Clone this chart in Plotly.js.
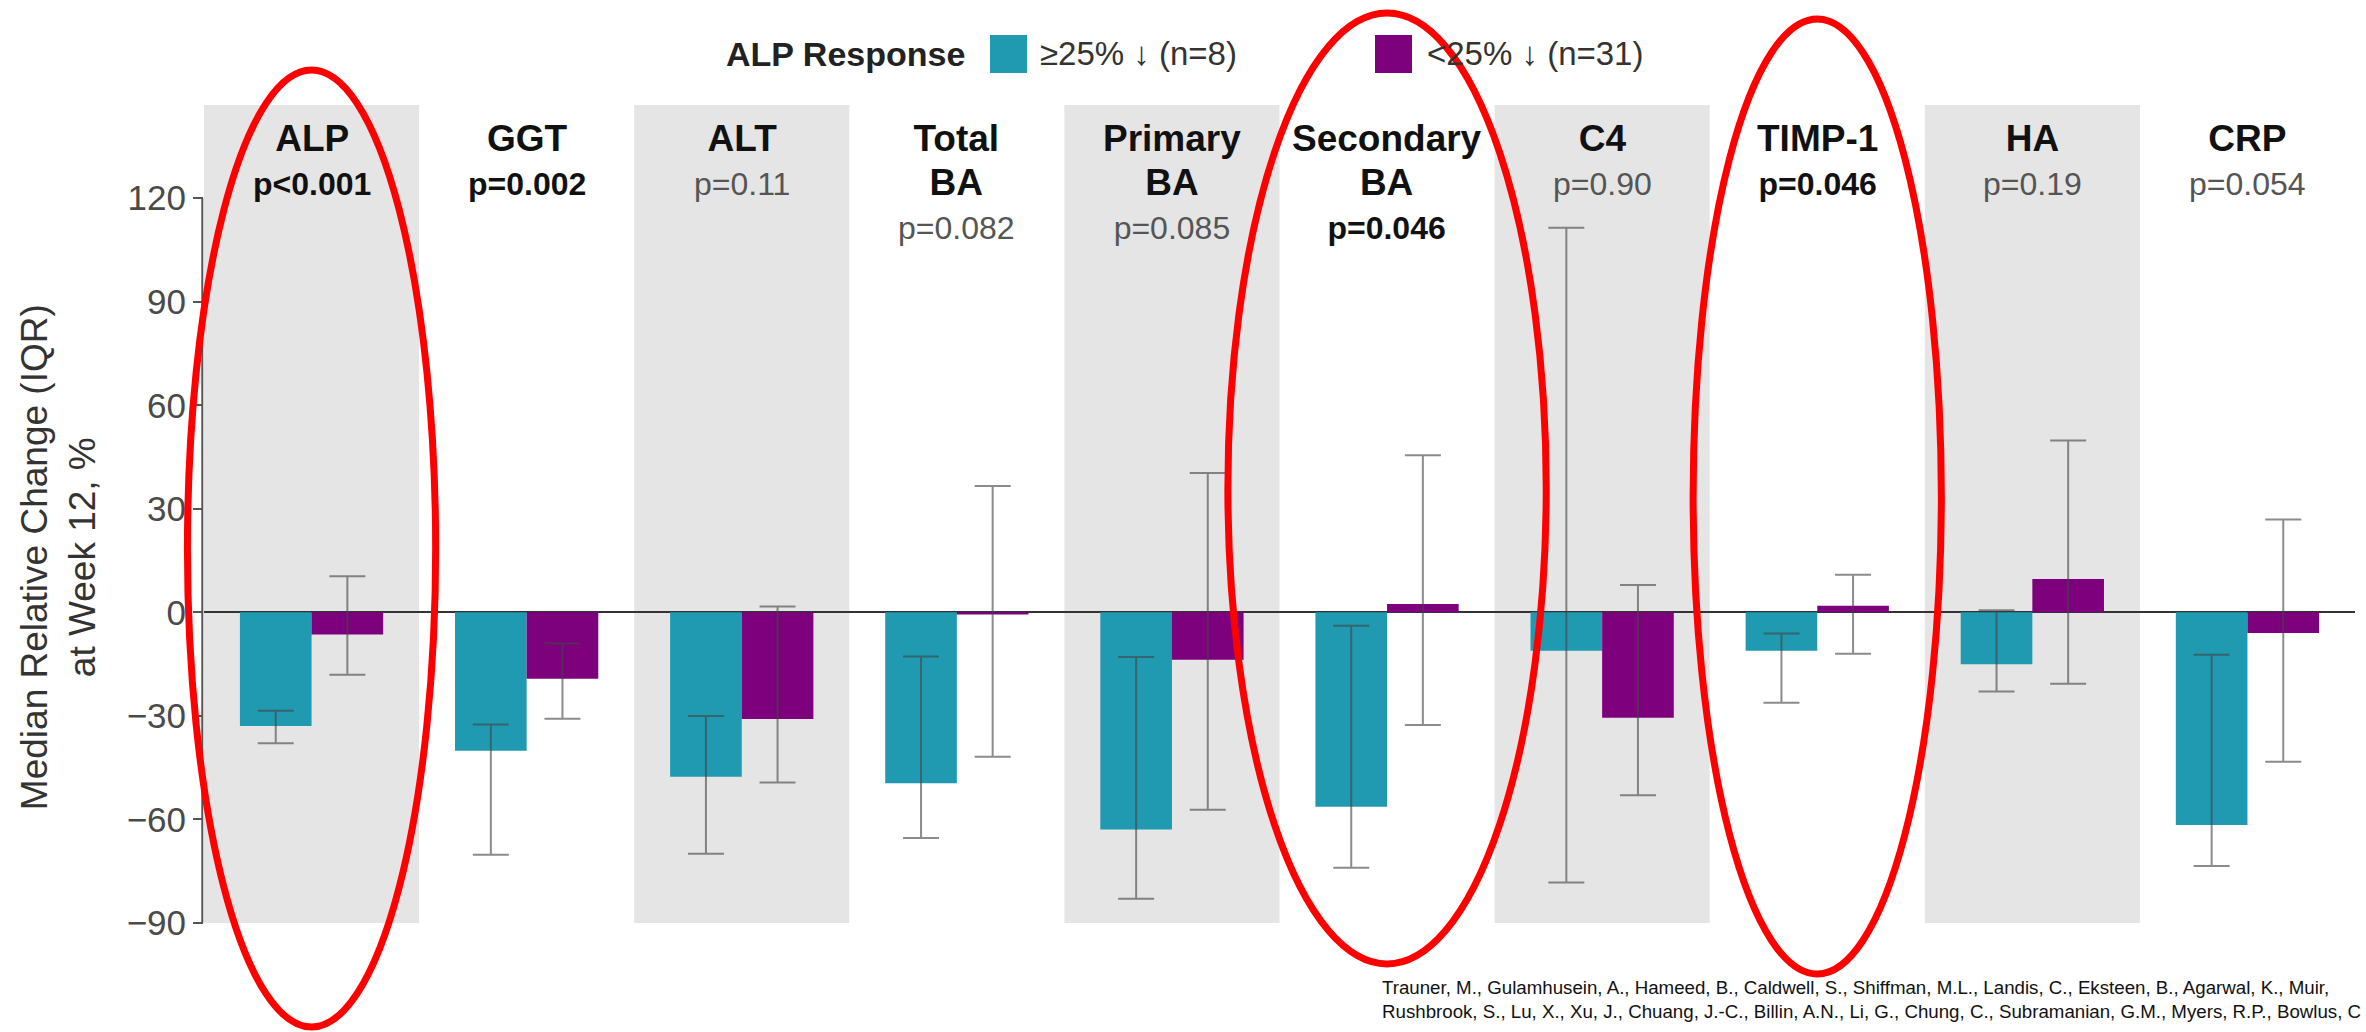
<!DOCTYPE html>
<html>
<head>
<meta charset="utf-8">
<script src="https://cdn.plot.ly/plotly-3.0.1.min.js"></script>
<style>
  html, body { margin: 0; padding: 0; background: #ffffff; }
  #chart { width: 2366px; height: 1032px; }
</style>
</head>
<body>
<div id="chart"></div>
<script>
// ---------------- DATA ----------------
const categories = ['ALP', 'GGT', 'ALT', 'Total BA', 'Primary BA', 'Secondary BA', 'C4', 'TIMP-1', 'HA', 'CRP'];
const categoryLabels = ['ALP', 'GGT', 'ALT', 'Total<br>BA', 'Primary<br>BA', 'Secondary<br>BA', 'C4', 'TIMP-1', 'HA', 'CRP'];
const pValues = ['p<0.001', 'p=0.002', 'p=0.11', 'p=0.082', 'p=0.085', 'p=0.046', 'p=0.90', 'p=0.046', 'p=0.19', 'p=0.054'];
const pSignificant = [true, true, false, false, false, true, false, true, false, false];

const seriesNames = ['\u226525% \u2193 (n=8)', '<25% \u2193 (n=31)'];
const legendTitle = 'ALP Response';

// >=25% responders: median, upper quartile, lower quartile
const respMedian = [-32.9, -40.1, -47.6, -49.5, -62.9, -56.3, -11.1, -11.1, -15.0, -61.6];
const respQ3     = [-28.5, -32.5, -30.0, -12.8, -12.9, -3.9, 111.4, -6.1, 0.6, -12.3];
const respQ1     = [-37.9, -70.2, -69.9, -65.4, -83.0, -74.0, -78.3, -26.2, -22.9, -73.5];

// <25% responders
const nonMedian = [-6.4, -19.2, -30.9, -0.6, -13.7, 2.4, -30.5, 1.9, 9.7, -6.0];
const nonQ3     = [10.5, -9.0, 1.7, 36.6, 40.4, 45.5, 7.9, 10.9, 49.8, 26.9];
const nonQ1     = [-18.1, -30.8, -49.3, -41.8, -57.2, -32.6, -53.0, -12.0, -20.7, -43.3];

const yTicks = [-90, -60, -30, 0, 30, 60, 90, 120];
const yTitleLines = ['Median Relative Change (IQR)', 'at Week 12, %'];
const highlighted = ['ALP', 'Secondary BA', 'TIMP-1'];
const citationLines = [
  'Trauner, M., Gulamhusein, A., Hameed, B., Caldwell, S., Shiffman, M.L., Landis, C., Eksteen, B., Agarwal, K., Muir,',
  'Rushbrook, S., Lu, X., Xu, J., Chuang, J.-C., Billin, A.N., Li, G., Chung, C., Subramanian, G.M., Myers, R.P., Bowlus, C'
];

// ---------------- STYLE / LAYOUT ----------------
const W = 2366, H = 1032;
const M = { l: 204, r: 11, t: 105, b: 109 };
const plotL = M.l, plotR = W - M.r, plotT = M.t, plotB = H - M.b;
const px = v => (v - plotL) / (plotR - plotL);   // pixel -> paper x
const py = v => (plotB - v) / (plotB - plotT);   // pixel -> paper y

const TEAL = '#1f9ab0';
const PURPLE = '#7d007d';
const BAND = '#e5e5e5';
const FONT = 'Liberation Sans, Arial, Helvetica, sans-serif';

const errStyle = { color: 'rgba(70,70,70,0.62)', thickness: 2, width: 18 };

function upper(med, q3) { return med.map((m, i) => q3[i] - m); }
function lower(med, q1) { return med.map((m, i) => m - q1[i]); }

const traces = [
  {
    type: 'bar', name: seriesNames[0], x: categories, y: respMedian,
    marker: { color: TEAL },
    error_y: Object.assign({ type: 'data', symmetric: false, array: upper(respMedian, respQ3), arrayminus: lower(respMedian, respQ1) }, errStyle),
    hoverinfo: 'skip'
  },
  {
    type: 'bar', name: seriesNames[1], x: categories, y: nonMedian,
    marker: { color: PURPLE },
    error_y: Object.assign({ type: 'data', symmetric: false, array: upper(nonMedian, nonQ3), arrayminus: lower(nonMedian, nonQ1) }, errStyle),
    hoverinfo: 'skip'
  }
];

const shapes = [];
// alternating gray bands
categories.forEach((c, i) => {
  if (i % 2 === 0) {
    shapes.push({ type: 'rect', layer: 'below', xref: 'x', yref: 'paper', x0: i - 0.5, x1: i + 0.5, y0: 0, y1: 1,
      fillcolor: BAND, line: { width: 0 } });
  }
});
// y axis line (from -90 to 120 only)
shapes.push({ type: 'line', xref: 'paper', yref: 'y', x0: -0.0008, x1: -0.0008, y0: yTicks[0], y1: yTicks[yTicks.length - 1],
  line: { color: '#555555', width: 2 } });

// red highlight ellipses
const ellipseHalfWidth = { 'ALP': 0.577, 'Secondary BA': 0.74, 'TIMP-1': 0.577 };
const ellipseTopPx = { 'ALP': 70, 'Secondary BA': 13, 'TIMP-1': 19 };
const ellipseBotPx = { 'ALP': 1027, 'Secondary BA': 964, 'TIMP-1': 974 };
const N = categories.length;
highlighted.forEach(name => {
  const i = categories.indexOf(name);
  const cx = (i + 0.5) / N;
  const hw = ellipseHalfWidth[name] / N;
  shapes.push({ type: 'circle', xref: 'paper', yref: 'paper', layer: 'above',
    x0: cx - hw, x1: cx + hw, y0: py(ellipseBotPx[name]), y1: py(ellipseTopPx[name]),
    line: { color: '#ff0000', width: 7 }, fillcolor: 'rgba(0,0,0,0)' });
});

// legend swatches
shapes.push({ type: 'rect', xref: 'paper', yref: 'paper', x0: px(990), x1: px(1027), y0: py(73), y1: py(35),
  fillcolor: TEAL, line: { width: 0 } });
shapes.push({ type: 'rect', xref: 'paper', yref: 'paper', x0: px(1375), x1: px(1412), y0: py(73), y1: py(35),
  fillcolor: PURPLE, line: { width: 0 } });

const annotations = [];
// category headers with p-values
categories.forEach((c, i) => {
  const pColor = pSignificant[i] ? '#111111' : '#555555';
  const pText = pSignificant[i] ? '<b>' + pValues[i] + '</b>' : pValues[i];
  annotations.push({
    xref: 'x', yref: 'paper', x: i, y: py(116), yanchor: 'top', xanchor: 'center',
    showarrow: false, align: 'center',
    text: '<span style="font-size:37px"><b>' + categoryLabels[i].replace('<br>', '</b></span><br><span style="font-size:37px"><b>') +
          '</b></span><br><span style="font-size:32px;color:' + pColor + '">' + pText + '</span>',
    font: { family: FONT, size: 34, color: '#111111' }
  });
});
// y-axis title
annotations.push({
  xref: 'paper', yref: 'y', x: px(58), y: 16, xanchor: 'center', yanchor: 'middle',
  textangle: -90, showarrow: false, align: 'center',
  text: yTitleLines.join('<br>'),
  font: { family: FONT, size: 37, color: '#333333' }
});
// legend texts
annotations.push({ xref: 'paper', yref: 'paper', x: px(967), y: py(54), xanchor: 'right', yanchor: 'middle',
  showarrow: false, text: '<b>' + legendTitle + '</b>', font: { family: FONT, size: 34, color: '#222222' } });
annotations.push({ xref: 'paper', yref: 'paper', x: px(1038), y: py(54), xanchor: 'left', yanchor: 'middle',
  showarrow: false, text: seriesNames[0], font: { family: FONT, size: 33, color: '#333333' } });
annotations.push({ xref: 'paper', yref: 'paper', x: px(1425), y: py(54), xanchor: 'left', yanchor: 'middle',
  showarrow: false, text: seriesNames[1], font: { family: FONT, size: 33, color: '#333333' } });
// citation
annotations.push({ xref: 'paper', yref: 'paper', x: px(1380), y: py(975), xanchor: 'left', yanchor: 'top',
  showarrow: false, align: 'left', text: citationLines.join('<br>'),
  font: { family: FONT, size: 18.7, color: '#111111' } });

const layout = {
  width: W, height: H,
  margin: M,
  paper_bgcolor: '#ffffff', plot_bgcolor: 'rgba(0,0,0,0)',
  barmode: 'group', bargap: 0.334, bargroupgap: 0,
  showlegend: false,
  font: { family: FONT, color: '#333333' },
  xaxis: { type: 'category', showticklabels: false, ticks: '', showgrid: false, zeroline: false, showline: false,
    range: [-0.5, N - 0.5], fixedrange: true },
  yaxis: { range: [-90, 147], tickvals: yTicks, ticks: 'outside', ticklen: 10, tickwidth: 2, tickcolor: '#555555',
    tickfont: { family: FONT, size: 35, color: '#4a4a4a' }, showgrid: false, showline: false,
    zeroline: true, zerolinecolor: '#333333', zerolinewidth: 2, fixedrange: true },
  shapes: shapes,
  annotations: annotations
};

Plotly.newPlot('chart', traces, layout, { staticPlot: true, displayModeBar: false });
</script>
</body>
</html>
